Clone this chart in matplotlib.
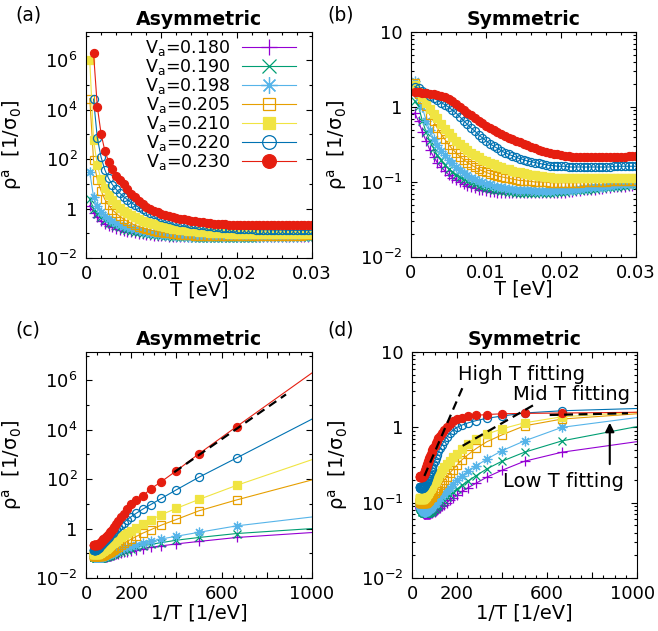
import numpy as np
import matplotlib
matplotlib.use("Agg")
import matplotlib.pyplot as plt
import matplotlib.transforms as mtransforms
from matplotlib.ticker import FixedLocator, FuncFormatter, MultipleLocator, NullFormatter

plt.rcParams['font.family'] = ['DejaVu Sans']
plt.rcParams['mathtext.default'] = 'regular'
plt.rcParams['font.size'] = 13

nan = np.nan

# temperature grid [eV]
T_eV = [0.0005, 0.001, 0.0015, 0.002, 0.0025, 0.003, 0.0035, 0.004, 0.0045, 0.005,
        0.0055, 0.006, 0.0065, 0.007, 0.0075, 0.008, 0.0085, 0.009, 0.0095, 0.01,
        0.0105, 0.011, 0.0115, 0.012, 0.0125, 0.013, 0.0135, 0.014, 0.0145, 0.015,
        0.0155, 0.016, 0.0165, 0.017, 0.0175, 0.018, 0.0185, 0.019, 0.0195, 0.02,
        0.0205, 0.021, 0.0215, 0.022, 0.0225, 0.023, 0.0235, 0.024, 0.0245, 0.025,
        0.0255, 0.026, 0.0265, 0.027, 0.0275, 0.028, 0.0285, 0.029, 0.0295, 0.03]

Va_labels = ['0.180', '0.190', '0.198', '0.205', '0.210', '0.220', '0.230']

# log10(rho^a), asymmetric case
asym_180 = [0.12, -0.16, -0.36, -0.52, -0.62, -0.70, -0.76, -0.81, -0.86, -0.90,
            -0.93, -0.96, -0.99, -1.01, -1.03, -1.05, -1.07, -1.09, -1.10, -1.11,
            -1.12, -1.13, -1.14, -1.15, -1.15, -1.16, -1.16, -1.16, -1.16, -1.16,
            -1.16, -1.16, -1.16, -1.16, -1.16, -1.16, -1.16, -1.16, -1.16, -1.16,
            -1.16, -1.16, -1.16, -1.16, -1.16, -1.15, -1.15, -1.15, -1.15, -1.15,
            -1.15, -1.14, -1.14, -1.14, -1.14, -1.14, -1.13, -1.13, -1.13, -1.13]
asym_190 = [0.39, 0.00, -0.20, -0.36, -0.47, -0.57, -0.64, -0.70, -0.76, -0.81,
            -0.85, -0.89, -0.93, -0.96, -0.99, -1.01, -1.04, -1.06, -1.08, -1.10,
            -1.11, -1.12, -1.13, -1.14, -1.15, -1.16, -1.17, -1.17, -1.18, -1.18,
            -1.18, -1.18, -1.18, -1.18, -1.18, -1.18, -1.18, -1.18, -1.18, -1.18,
            -1.18, -1.18, -1.18, -1.18, -1.18, -1.17, -1.17, -1.17, -1.17, -1.17,
            -1.16, -1.16, -1.16, -1.16, -1.16, -1.15, -1.15, -1.15, -1.15, -1.15]
asym_198 = [1.48, 0.47, 0.11, -0.15, -0.31, -0.42, -0.52, -0.59, -0.66, -0.71,
            -0.76, -0.80, -0.84, -0.88, -0.91, -0.94, -0.97, -0.99, -1.01, -1.03,
            -1.05, -1.07, -1.08, -1.10, -1.11, -1.12, -1.13, -1.14, -1.14, -1.15,
            -1.15, -1.16, -1.16, -1.16, -1.16, -1.16, -1.16, -1.16, -1.16, -1.16,
            -1.15, -1.15, -1.15, -1.15, -1.15, -1.14, -1.14, -1.14, -1.14, -1.14,
            -1.13, -1.13, -1.13, -1.13, -1.13, -1.13, -1.12, -1.12, -1.12, -1.12]
asym_205 = [4.45, 1.97, 1.16, 0.72, 0.37, 0.14, -0.05, -0.19, -0.32, -0.43,
            -0.52, -0.60, -0.67, -0.73, -0.78, -0.83, -0.87, -0.90, -0.93, -0.96,
            -0.98, -1.00, -1.02, -1.04, -1.05, -1.06, -1.07, -1.08, -1.09, -1.09,
            -1.10, -1.10, -1.10, -1.10, -1.11, -1.11, -1.11, -1.11, -1.11, -1.11,
            -1.11, -1.11, -1.11, -1.11, -1.11, -1.10, -1.10, -1.10, -1.10, -1.10,
            -1.10, -1.09, -1.09, -1.09, -1.09, -1.09, -1.09, -1.08, -1.08, -1.08]
asym_210 = [6.00, 2.79, 1.75, 1.18, 0.82, 0.56, 0.35, 0.18, 0.03, -0.09,
            -0.19, -0.28, -0.36, -0.43, -0.49, -0.55, -0.60, -0.64, -0.68, -0.72,
            -0.75, -0.78, -0.81, -0.83, -0.85, -0.87, -0.89, -0.91, -0.92, -0.94,
            -0.95, -0.96, -0.97, -0.98, -0.99, -1.00, -1.00, -1.01, -1.01, -1.02,
            -1.02, -1.02, -1.03, -1.03, -1.03, -1.03, -1.04, -1.04, -1.04, -1.04,
            -1.04, -1.04, -1.04, -1.04, -1.04, -1.04, -1.04, -1.04, -1.04, -1.04]
asym_220 = [nan, 4.43, 2.86, 2.08, 1.57, 1.22, 0.97, 0.78, 0.62, 0.48,
            0.36, 0.24, 0.14, 0.05, -0.03, -0.10, -0.17, -0.23, -0.28, -0.33,
            -0.38, -0.42, -0.46, -0.50, -0.53, -0.56, -0.59, -0.62, -0.64, -0.66,
            -0.68, -0.70, -0.72, -0.74, -0.75, -0.77, -0.78, -0.79, -0.80, -0.81,
            -0.82, -0.83, -0.84, -0.84, -0.85, -0.85, -0.86, -0.86, -0.86, -0.87,
            -0.87, -0.87, -0.87, -0.88, -0.88, -0.88, -0.88, -0.88, -0.88, -0.88]
asym_230 = [nan, 6.30, 4.13, 3.03, 2.34, 1.90, 1.60, 1.32, 1.14, 0.98,
            0.78, 0.60, 0.45, 0.30, 0.18, 0.07, -0.01, -0.08, -0.14, -0.20,
            -0.25, -0.30, -0.34, -0.38, -0.41, -0.44, -0.47, -0.50, -0.52, -0.54,
            -0.56, -0.58, -0.59, -0.61, -0.62, -0.63, -0.64, -0.65, -0.66, -0.66,
            -0.67, -0.67, -0.68, -0.68, -0.68, -0.68, -0.68, -0.68, -0.68, -0.68,
            -0.68, -0.68, -0.68, -0.68, -0.68, -0.68, -0.68, -0.68, -0.67, -0.67]

# log10(rho^a), symmetric case
sym_180 = [-0.08, -0.19, -0.33, -0.45, -0.57, -0.66, -0.74, -0.80, -0.85, -0.90,
           -0.94, -0.97, -1.00, -1.03, -1.05, -1.07, -1.08, -1.10, -1.11, -1.12,
           -1.13, -1.13, -1.14, -1.14, -1.15, -1.15, -1.15, -1.15, -1.15, -1.15,
           -1.15, -1.15, -1.15, -1.15, -1.15, -1.15, -1.15, -1.15, -1.14, -1.14,
           -1.14, -1.13, -1.13, -1.12, -1.12, -1.11, -1.11, -1.10, -1.10, -1.09,
           -1.09, -1.08, -1.08, -1.07, -1.07, -1.06, -1.06, -1.05, -1.05, -1.04]
sym_190 = [0.08, 0.01, -0.18, -0.33, -0.45, -0.55, -0.64, -0.71, -0.77, -0.82,
           -0.86, -0.90, -0.93, -0.96, -0.99, -1.01, -1.03, -1.05, -1.06, -1.08,
           -1.09, -1.10, -1.11, -1.12, -1.12, -1.13, -1.13, -1.14, -1.14, -1.14,
           -1.14, -1.14, -1.14, -1.14, -1.14, -1.14, -1.14, -1.14, -1.13, -1.13,
           -1.13, -1.12, -1.12, -1.11, -1.11, -1.10, -1.10, -1.09, -1.09, -1.08,
           -1.08, -1.07, -1.07, -1.06, -1.06, -1.05, -1.05, -1.04, -1.04, -1.03]
sym_198 = [0.35, 0.13, 0.00, -0.18, -0.31, -0.42, -0.51, -0.58, -0.64, -0.70,
           -0.75, -0.80, -0.84, -0.88, -0.91, -0.94, -0.96, -0.98, -1.00, -1.02,
           -1.03, -1.05, -1.06, -1.07, -1.08, -1.09, -1.09, -1.10, -1.10, -1.11,
           -1.11, -1.11, -1.12, -1.12, -1.12, -1.12, -1.12, -1.12, -1.11, -1.11,
           -1.11, -1.10, -1.10, -1.09, -1.09, -1.08, -1.08, -1.07, -1.07, -1.06,
           -1.06, -1.05, -1.05, -1.04, -1.04, -1.03, -1.03, -1.02, -1.02, -1.01]
sym_205 = [0.32, 0.18, 0.11, 0.02, -0.10, -0.19, -0.28, -0.36, -0.43, -0.50,
           -0.56, -0.61, -0.66, -0.70, -0.74, -0.77, -0.80, -0.83, -0.85, -0.87,
           -0.89, -0.90, -0.92, -0.93, -0.94, -0.95, -0.96, -0.97, -0.98, -0.98,
           -0.99, -0.99, -1.00, -1.00, -1.00, -1.00, -1.01, -1.01, -1.01, -1.01,
           -1.01, -1.01, -1.01, -1.01, -1.01, -1.00, -1.00, -1.00, -1.00, -1.00,
           -1.00, -1.00, -0.99, -0.99, -0.99, -0.99, -0.99, -0.99, -0.99, -0.99]
sym_210 = [0.30, 0.20, 0.14, 0.06, -0.02, -0.09, -0.15, -0.22, -0.29, -0.35,
           -0.40, -0.45, -0.49, -0.53, -0.57, -0.61, -0.64, -0.67, -0.70, -0.72,
           -0.74, -0.76, -0.78, -0.80, -0.82, -0.83, -0.85, -0.86, -0.87, -0.88,
           -0.89, -0.90, -0.91, -0.92, -0.92, -0.93, -0.93, -0.94, -0.94, -0.94,
           -0.95, -0.95, -0.95, -0.95, -0.95, -0.95, -0.95, -0.95, -0.95, -0.95,
           -0.95, -0.95, -0.95, -0.95, -0.95, -0.95, -0.95, -0.94, -0.94, -0.94]
sym_220 = [0.27, 0.25, 0.22, 0.19, 0.15, 0.12, 0.09, 0.06, 0.03, 0.00,
           -0.04, -0.08, -0.13, -0.18, -0.23, -0.28, -0.32, -0.37, -0.41, -0.45,
           -0.49, -0.52, -0.55, -0.58, -0.61, -0.63, -0.65, -0.67, -0.69, -0.70,
           -0.72, -0.73, -0.74, -0.75, -0.76, -0.77, -0.78, -0.78, -0.79, -0.79,
           -0.79, -0.80, -0.80, -0.80, -0.80, -0.80, -0.80, -0.80, -0.80, -0.80,
           -0.80, -0.80, -0.80, -0.79, -0.79, -0.79, -0.79, -0.79, -0.79, -0.79]
sym_230 = [0.20, 0.20, 0.19, 0.185, 0.18, 0.17, 0.16, 0.15, 0.13, 0.11,
           0.08, 0.04, 0.00, -0.04, -0.08, -0.11, -0.14, -0.18, -0.21, -0.25,
           -0.28, -0.30, -0.33, -0.36, -0.38, -0.41, -0.43, -0.45, -0.47, -0.49,
           -0.51, -0.53, -0.55, -0.57, -0.58, -0.60, -0.61, -0.62, -0.63, -0.64,
           -0.65, -0.65, -0.66, -0.66, -0.66, -0.66, -0.66, -0.66, -0.66, -0.66,
           -0.66, -0.66, -0.66, -0.66, -0.66, -0.66, -0.66, -0.65, -0.65, -0.65]

# fitted lines (1/T [1/eV], log10 rho)
asym_fit_x = [390, 885]
asym_fit_log = [2.28, 5.43]
high_fit_x = [55, 228]
high_fit_log = [-0.645, 0.55]
mid_fit_x = [225, 541]
mid_fit_log = [-0.245, 0.297]
low_fit_x = [612, 960]
low_fit_log = [0.164, 0.187]

asym_sets = [asym_180, asym_190, asym_198, asym_205, asym_210, asym_220, asym_230]
sym_sets = [sym_180, sym_190, sym_198, sym_205, sym_210, sym_220, sym_230]

# gnuplot-like colours and point types
colors = ['#9400d3', '#009e73', '#56b4e9', '#e69f00', '#f0e442', '#0072b2', '#e51e10']
markers = ['+', 'x', (8, 2, 0), 's', 's', 'o', 'o']
msizes = [7, 6, 7, 5.2, 5.2, 5.8, 5.8]
filled = [True, True, True, False, True, False, True]

T = np.array(T_eV)
invT = 1.0 / T

LABEL_FS = 14


def log_fmt(v, pos):
    e = int(round(np.log10(v)))
    if e == 0:
        return '1'
    if e == 1:
        return '10'
    return '$10^{%d}$' % e


def draw(ax, x, sets, xmax):
    # points sitting on / beyond the right border are not drawn as markers
    shown = list(x < xmax * 0.999)
    for logv, c, m, ms, f, lab in zip(sets, colors, markers, msizes, filled, Va_labels):
        y = 10.0 ** np.array(logv)
        ax.plot(x, y, color=c, lw=0.8, marker=m, ms=ms, mew=0.9, markevery=shown,
                mfc=c if f else 'none', mec=c, label='V$_a$=' + lab)


def style(ax, wide):
    ax.set_yscale('log')
    ax.tick_params(which='both', direction='in', top=True, right=True, width=0.8)
    ax.tick_params(which='major', length=4.5, pad=5)
    ax.tick_params(which='minor', length=2.5)
    ax.tick_params(axis='y', pad=6)
    if wide:
        ax.set_ylim(1e-2, 1.4e7)
        ax.yaxis.set_major_locator(FixedLocator([1e-2, 1, 1e2, 1e4, 1e6]))
        ax.yaxis.set_minor_locator(FixedLocator([1e-1, 1e1, 1e3, 1e5, 1e7]))
    else:
        ax.set_ylim(1e-2, 10)
        ax.yaxis.set_major_locator(FixedLocator([1e-2, 1e-1, 1, 10]))
        ax.yaxis.set_minor_locator(FixedLocator(
            [k * 10.0 ** e for e in (-2, -1, 0) for k in range(2, 10)]))
    ax.yaxis.set_major_formatter(FuncFormatter(log_fmt))
    ax.yaxis.set_minor_formatter(NullFormatter())
    ax.set_ylabel('ρ$^{a}$  [1/σ$_0$]', fontsize=LABEL_FS)
    ax.yaxis.set_label_coords(-0.275, 0.5)
    for s in ax.spines.values():
        s.set_linewidth(0.8)


def style_T(ax):
    ax.set_xlim(0, 0.03)
    ax.set_xticks([0, 0.01, 0.02, 0.03])
    ax.set_xticklabels(['0', '0.01', '0.02', '0.03'])
    ax.xaxis.set_minor_locator(MultipleLocator(0.002))
    ax.set_xlabel('T [eV]', fontsize=LABEL_FS)
    ax.xaxis.set_label_coords(0.5, -0.142)
    ax.xaxis.label.set_va('center')


def style_inv(ax):
    ax.set_xlim(0, 1000)
    ax.set_xticks([0, 200, 400, 600, 800, 1000])
    ax.set_xticklabels(['0', '200', '', '600', '', '1000'])
    ax.xaxis.set_minor_locator(MultipleLocator(50))
    ax.set_xlabel('1/T [1/eV]', fontsize=LABEL_FS)
    ax.xaxis.set_label_coords(0.5, -0.155)
    ax.xaxis.label.set_va('center')


W, H = 658.0, 631.0


def box(l, t, r, b):
    return [l / W, 1 - b / H, (r - l) / W, (b - t) / H]


fig = plt.figure(figsize=(6.58, 6.31), dpi=100)
ax_a = fig.add_axes(box(86, 32, 312, 258))
ax_b = fig.add_axes(box(411, 32, 636, 257))
ax_c = fig.add_axes(box(86, 352, 312, 578))
ax_d = fig.add_axes(box(412, 352, 637, 578))

draw(ax_a, T, asym_sets, 1.0)
draw(ax_b, T, sym_sets, 1.0)
draw(ax_c, invT, asym_sets, 1000)
draw(ax_d, invT, sym_sets, 1000)

for ax, wide in ((ax_a, True), (ax_b, False), (ax_c, True), (ax_d, False)):
    style(ax, wide)
style_T(ax_a)
style_T(ax_b)
style_inv(ax_c)
style_inv(ax_d)

# keep the last tick label of (d) inside the figure
shift = mtransforms.ScaledTranslation(-4 / 100.0, 0, fig.dpi_scale_trans)
last = ax_d.get_xticklabels()[-1]
last.set_transform(last.get_transform() + shift)

for ax, name in ((ax_a, 'Asymmetric'), (ax_b, 'Symmetric'),
                 (ax_c, 'Asymmetric'), (ax_d, 'Symmetric')):
    ax.set_title(name, fontweight='bold', fontsize=13.6, pad=5)

ax_a.legend(loc='upper right', bbox_to_anchor=(0.93, 0.975), markerfirst=False,
            frameon=False, handlelength=3.1, handletextpad=0.7, labelspacing=-0.05,
            borderpad=0, borderaxespad=0, markerscale=1.7, fontsize=12.5)

# fitting lines
dash = dict(color='k', lw=1.6, dashes=(4, 2.5))
ax_c.plot(asym_fit_x, 10.0 ** np.array(asym_fit_log), **dash)
ax_d.plot(high_fit_x, 10.0 ** np.array(high_fit_log), **dash)
ax_d.plot(mid_fit_x, 10.0 ** np.array(mid_fit_log), **dash)
ax_d.plot(low_fit_x, 10.0 ** np.array(low_fit_log), **dash)

ax_d.text(205, 10 ** 0.70, 'High T fitting', ha='left', va='center', fontsize=14)
ax_d.text(450, 10 ** 0.43, 'Mid T fitting', ha='left', va='center', fontsize=14)
ax_d.text(405, 10 ** -0.725, 'Low T fitting', ha='left', va='center', fontsize=14)
ax_d.annotate('', xy=(879, 10 ** 0.098), xytext=(879, 10 ** -0.525),
              arrowprops=dict(arrowstyle='-|>', color='k', lw=1.5, mutation_scale=13))

for lab, x, y in (('(a)', 15, 15), ('(b)', 327, 15), ('(c)', 15, 330), ('(d)', 327, 330)):
    fig.text(x / W, 1 - y / H, lab, ha='left', va='center', fontsize=13.5)

fig.savefig('out.png', dpi=100)
